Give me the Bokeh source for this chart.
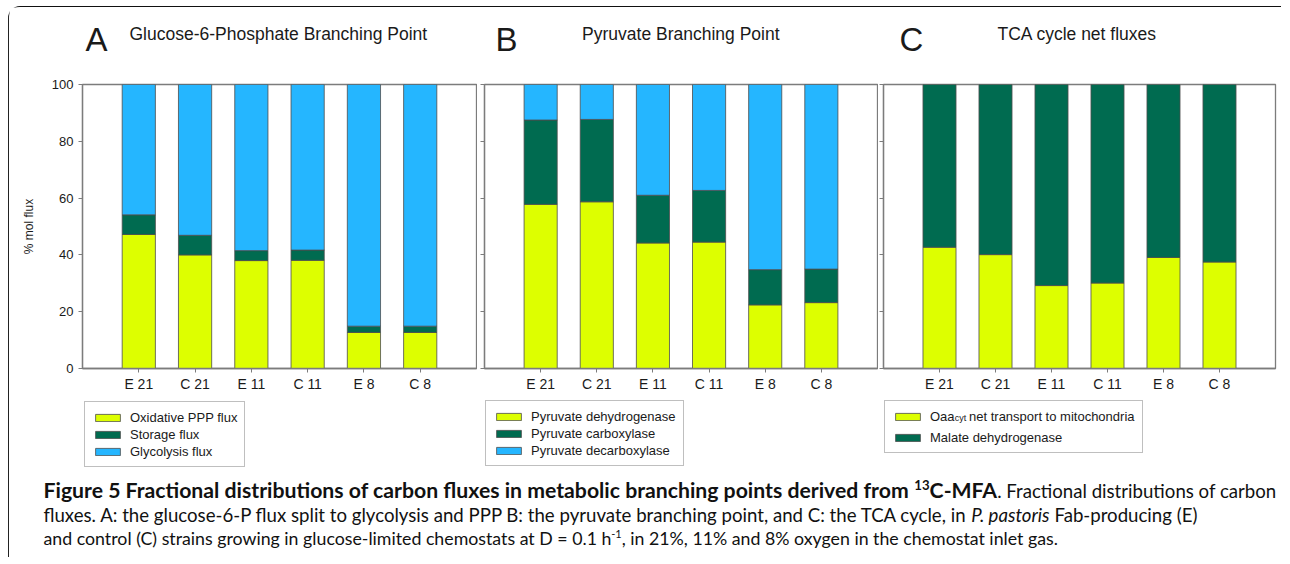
import os, glob, subprocess
from bokeh.plotting import figure
from bokeh.layouts import column, row
from bokeh.models import (Range1d, FixedTicker, Legend, LegendItem, ColumnDataSource,
                          CustomJSTickFormatter, Spacer)
from bokeh.core.properties import value
from bokeh.embed import file_html
from bokeh.resources import INLINE

# ---------------- data ----------------
categories = ["E 21", "C 21", "E 11", "C 11", "E 8", "C 8"]
y_ticks = [0, 20, 40, 60, 80, 100]

# Panel A: Glucose-6-Phosphate branching point (% mol flux)
oxidative_ppp = [47.2, 40.0, 38.0, 38.1, 12.7, 12.7]
storage_flux = [6.9, 6.9, 3.5, 3.6, 2.2, 2.2]
glycolysis_flux = [45.9, 53.1, 58.5, 58.3, 85.1, 85.1]

# Panel B: Pyruvate branching point
pyruvate_dehydrogenase = [57.8, 58.7, 44.2, 44.5, 22.4, 23.2]
pyruvate_carboxylase = [29.7, 29.0, 16.8, 18.2, 12.4, 11.8]
pyruvate_decarboxylase = [12.5, 12.3, 39.0, 37.3, 65.2, 65.0]

# Panel C: TCA cycle net fluxes
oaa_transport = [42.7, 40.1, 29.2, 30.1, 39.1, 37.5]
malate_dehydrogenase = [57.3, 59.9, 70.8, 69.9, 60.9, 62.5]

labels_a = ["Oxidative PPP flux", "Storage flux", "Glycolysis flux"]
labels_b = ["Pyruvate dehydrogenase", "Pyruvate carboxylase", "Pyruvate decarboxylase"]
labels_c = ["Oaa\u00a0\u00a0\u00a0\u00a0net transport to mitochondria", "Malate dehydrogenase"]

YELLOW = "#DDFF00"
GREEN = "#006B50"
BLUE = "#25B6FF"
FRAME = "#7c7c7c"
BAR_LINE = "#4d4d4d"
TXT = "#1a1a1a"
FONT = "Liberation Sans"
BL = 0.40  # empirical baseline correction (fraction of font size) for glyph text

xs = [i + 1 for i in range(len(categories))]
W = 1272


def stack_source(series):
    data = dict(x=xs)
    names = []
    for i, s in enumerate(series):
        data[f"s{i}"] = s
        names.append(f"s{i}")
    return ColumnDataSource(data), names


def panel(series, colors, left, fw, right, show_ylab):
    p = figure(frame_width=fw, frame_height=284, min_border_left=left, min_border_right=right,
               min_border_top=14, min_border_bottom=26,
               x_range=Range1d(0, 7), y_range=Range1d(0, 100),
               output_backend="svg", toolbar_location=None)
    p.background_fill_color = "white"
    p.border_fill_color = "white"
    p.outline_line_color = FRAME
    p.outline_line_width = 1.3
    p.xgrid.visible = False
    p.ygrid.visible = False
    src, names = stack_source(series)
    p.vbar_stack(names, x="x", width=0.59, fill_color=colors, line_color=BAR_LINE,
                 line_width=0.8, source=src)
    for ax in (p.xaxis, p.yaxis):
        ax.axis_line_color = FRAME
        ax.axis_line_width = 1.3
        ax.major_tick_line_color = FRAME
        ax.major_tick_in = 0
        ax.major_tick_out = 4
        ax.minor_tick_line_color = None
        ax.major_label_text_font = FONT
        ax.major_label_text_color = TXT
    p.xaxis.ticker = FixedTicker(ticks=xs)
    p.xaxis.major_label_overrides = {x: c for x, c in zip(xs, categories)}
    p.xaxis.major_label_text_font_size = "14px"
    p.xaxis.major_label_standoff = 3
    p.yaxis.ticker = FixedTicker(ticks=y_ticks)
    if show_ylab:
        p.yaxis.major_label_text_font_size = "13px"
        p.yaxis.major_label_standoff = 5
        p.yaxis.axis_label = "% mol flux"
        p.yaxis.axis_label_text_font = FONT
        p.yaxis.axis_label_text_font_style = "normal"
        p.yaxis.axis_label_text_font_size = "12px"
        p.yaxis.axis_label_text_color = TXT
        p.yaxis.axis_label_standoff = 13
    else:
        p.yaxis.formatter = CustomJSTickFormatter(code="return ''")
        p.yaxis.major_label_standoff = 0
        p.yaxis.major_label_text_font_size = "13px"
    return p


series_a = [oxidative_ppp, storage_flux, glycolysis_flux]
series_b = [pyruvate_dehydrogenase, pyruvate_carboxylase, pyruvate_decarboxylase]
series_c = [oaa_transport, malate_dehydrogenase]

pA = panel(series_a, [YELLOW, GREEN, BLUE], 73, 394, 1, True)
pB = panel(series_b, [YELLOW, GREEN, BLUE], 7, 393, 1, False)
pC = panel(series_c, [YELLOW, GREEN], 5, 392, 6, False)

# ---------------- header (panel letters and titles) ----------------
hdr = figure(width=W, height=63, x_range=Range1d(0, W), y_range=Range1d(63, 0),
             x_axis_type=None, y_axis_type=None, min_border=0,
             output_backend="svg", toolbar_location=None)
hdr.outline_line_color = None
hdr.text(x=[76, 486, 890], y=[45 - BL * 33] * 3, text=["A", "B", "C"], text_font=value(FONT),
         text_font_size=value("33px"), text_color=TXT, text_baseline="alphabetic")
hdr.text(x=[120, 572.6, 988], y=[33 - BL * 17.5] * 3,
         text=["Glucose-6-Phosphate Branching Point", "Pyruvate Branching Point",
               "TCA cycle net fluxes"],
         text_font=value(FONT), text_font_size=value("17.5px"), text_color=TXT,
         text_baseline="alphabetic")

# ---------------- bottom: legends + caption ----------------
HB = 163
bot = figure(width=W, height=HB, x_range=Range1d(0, W), y_range=Range1d(HB, 0),
             x_axis_type=None, y_axis_type=None, min_border=0,
             output_backend="svg", toolbar_location=None)
bot.outline_line_color = None
bot.background_fill_color = "white"

# subscript "cyt" of Oaa_cyt (legend C has a see-through background)
bot.text(x=[945.2], y=[27 - BL * 9], text=["cyt"], text_font=value(FONT),
         text_font_size=value("9px"), text_color=TXT, text_baseline="alphabetic")


def add_legend(fig, series, colors, labels, loc, spacing):
    # hidden copies of the stacked bars: only used to key the legend
    src, names = stack_source(series)
    rs = fig.vbar_stack(names, x="x", width=0.59, fill_color=colors, line_color=BAR_LINE,
                        line_width=0.8, source=src)
    for r in rs:
        r.visible = False
    lg = Legend(items=[LegendItem(label=l, renderers=[r]) for l, r in zip(labels, rs)],
                location=loc, orientation="vertical")
    lg.border_line_color = "#808080"
    lg.border_line_width = 1
    lg.background_fill_alpha = 0
    lg.label_text_font = FONT
    lg.label_text_font_size = "13px"
    lg.label_text_color = TXT
    lg.glyph_width = 31
    lg.glyph_height = 9
    lg.label_height = 16
    lg.label_standoff = 7
    lg.padding = 7
    lg.spacing = spacing
    lg.margin = 0
    lg.click_policy = "none"
    fig.add_layout(lg)


add_legend(bot, series_a, [YELLOW, GREEN, BLUE], labels_a, (75, 90), 1)
add_legend(bot, series_b, [YELLOW, GREEN, BLUE], labels_b, (476, 91), 1)
add_legend(bot, series_c, [YELLOW, GREEN], labels_c, (875, 104), 5)

# caption
CAP_FONT = "Lato"
STYLE_FILE = {"bold": "Lato-Bold", "italic": "Lato-Italic", "normal": "Lato-Regular"}
STYLE_FC = {"bold": "Bold", "italic": "Italic", "normal": "Regular"}


def font_file(style):
    try:
        out = subprocess.run(["fc-match", "-f", "%{file}", f"{CAP_FONT}:style={STYLE_FC[style]}"],
                             capture_output=True, text=True, timeout=5).stdout.strip()
        if out and os.path.exists(out) and "lato" in out.lower():
            return out
    except Exception:
        pass
    for d in ("/usr/share/fonts", "/usr/local/share/fonts", os.path.expanduser("~/.fonts"),
              os.path.expanduser("~/.local/share/fonts")):
        for ext in ("ttf", "otf"):
            hits = glob.glob(os.path.join(d, "**", f"{STYLE_FILE[style]}.{ext}"), recursive=True)
            if hits:
                return hits[0]
    return None


_fcache = {}
_avg = {"bold": 0.53, "italic": 0.47, "normal": 0.48}


def text_w(s, style, size):
    if style not in _fcache:
        f = font_file(style)
        try:
            from PIL import ImageFont
            _fcache[style] = ImageFont.truetype(f, 200)
        except Exception:
            _fcache[style] = None
    font = _fcache[style]
    if font is None:
        return len(s) * _avg[style] * size
    return font.getlength(s) * size / 200.0


SUP = 0.62
line1 = [("Figure 5 Fractional distributions of carbon fluxes in metabolic branching points derived from ", "bold", False),
         ("13", "bold", True), ("C-MFA", "bold", False),
         (". Fractional distributions of carbon", "normal", False)]
line2 = [("fluxes. A: the glucose-6-P flux split to glycolysis and PPP B: the pyruvate branching point, and C: the TCA cycle, in ", "normal", False),
         ("P. pastoris", "italic", False), (" Fab-producing (E)", "normal", False)]
line3 = [("and control (C) strains growing in glucose-limited chemostats at D = 0.1 h", "normal", False),
         ("-1", "normal", True),
         (", in 21%, 11% and 8% oxygen in the chemostat inlet gas.", "normal", False)]


def unit_w(segs, styles):
    return sum(text_w(t, st, SUP if sup else 1.0) for t, st, sup in segs if st in styles)


X0 = 34.0
reg2 = 1154.0 / unit_w(line2, ("normal", "italic"))
reg3 = 0.5 * (reg2 + 963.0 / unit_w(line3, ("normal", "italic")))
reg_part1 = reg2 * unit_w(line1, ("normal", "italic"))
bold_size = (1233.0 - reg_part1) / unit_w(line1, ("bold",))
bold_size = max(min(bold_size, reg2 * 1.25), reg2 * 0.95)

for segs, base, rsize in ((line1, 104.3, reg2), (line2, 127.6, reg2), (line3, 150.9, reg3)):
    cx = X0
    for t, st, sup in segs:
        full = bold_size if st == "bold" else rsize
        sz = full * (SUP if sup else 1)
        lead = len(t) - len(t.lstrip(" "))
        tx = cx + text_w(" " * lead, st, sz)
        y = base - full * 0.38 if sup else base
        bot.text(x=[tx], y=[y - BL * sz], text=[t.strip(" ")],
                 text_font=value(CAP_FONT),
                 text_font_style="bold" if st == "bold" else ("italic" if st == "italic" else "normal"),
                 text_font_size=value(f"{sz:.2f}px"), text_color="#111111",
                 text_baseline="alphabetic")
        cx += text_w(t, st, sz)

inner = column(hdr, row(pA, pB, pC), bot,
               styles={"border-left": "1px solid #222", "border-top": "1px solid #111",
                       "border-top-left-radius": "12px"})
layout = column(Spacer(height=6), row(Spacer(width=8), inner))

open("out.html", "w").write(file_html(layout, INLINE))
